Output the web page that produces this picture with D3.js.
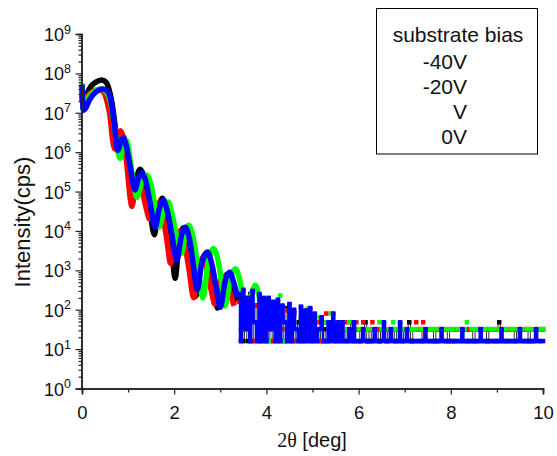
<!DOCTYPE html>
<html lang="en">
<head>
<meta charset="UTF-8">
<script src="https://cdn.jsdelivr.net/npm/d3@7"></script>
<style>
    * { margin: 0; padding: 0; }
    body { background: #fff; font-family: "Liberation Sans", Arial, sans-serif; }
    svg { display: block; }
</style>
<title>XRR substrate bias</title>
</head>
<body>
<div id="chart"></div>
<script>
// ---- data ----
var xTickValues = [0, 1, 2, 3, 4, 5, 6, 7, 8, 9, 10];
var xTickLabels = [0, 2, 4, 6, 8, 10];
var yExponents = [0, 1, 2, 3, 4, 5, 6, 7, 8, 9];
var legendTitle = "substrate bias";
var legendLabels = ["-40V", "-20V", "V", "0V"];

// main fringe part: [2theta, cps]
var blackMain = [[0.00,2.8e7],[0.03,1.4e7],[0.10,2.8e7],[0.20,4.8e7],[0.30,6.0e7],[0.42,6.8e7],[0.50,6.3e7],
    [0.58,4.2e7],[0.65,1.8e7],[0.70,7.0e6],[0.76,2.0e6],[0.80,1.4e6],[0.87,2.6e6],[0.94,1.9e6],[1.02,5.6e5],
    [1.12,1.3e5],[1.18,2.2e5],[1.26,3.7e5],[1.34,2.5e5],[1.45,5.6e4],[1.57,8.0e3],[1.65,3.5e4],[1.74,6.8e4],
    [1.83,3.5e4],[1.93,6.3e3],[2.02,630],[2.11,6.3e3],[2.20,1.2e4],[2.30,5.0e3],[2.40,800],[2.47,220],
    [2.57,1.4e3],[2.68,2.5e3],[2.78,1.1e3],[2.88,250],[2.94,110],[3.05,450],[3.15,800],[3.25,400],[3.35,160]];
var redMain = [[0.00,3.5e7],[0.03,1.3e7],[0.10,2.4e7],[0.20,3.3e7],[0.30,3.8e7],[0.40,3.8e7],[0.48,3.2e7],
    [0.55,1.8e7],[0.61,8.0e6],[0.66,2.2e6],[0.72,1.2e6],[0.78,2.5e6],[0.83,3.5e6],[0.90,2.2e6],[0.98,4.0e5],
    [1.05,6.3e4],[1.08,4.2e4],[1.14,9.0e4],[1.22,1.6e5],[1.30,1.1e5],[1.40,3.5e4],[1.47,2.0e4],[1.56,3.5e4],
    [1.66,5.2e4],[1.76,2.2e4],[1.85,5.0e3],[1.92,1.5e3],[2.03,5.6e3],[2.13,1.0e4],[2.23,4.5e3],[2.33,900],
    [2.42,200],[2.52,1.0e3],[2.62,2.0e3],[2.72,1.0e3],[2.82,250],[2.88,140],[2.98,450],[3.08,700],[3.18,350],[3.30,125]];
var greenMain = [[0.00,5.6e7],[0.03,1.2e7],[0.10,2.1e7],[0.20,3.0e7],[0.30,3.7e7],[0.40,4.0e7],[0.50,3.6e7],
    [0.58,2.6e7],[0.65,1.25e7],[0.70,5.0e6],[0.76,1.4e6],[0.83,7.0e5],[0.90,1.6e6],[0.96,2.0e6],[1.04,7.0e5],
    [1.12,1.6e5],[1.19,7.2e4],[1.30,1.8e5],[1.41,2.6e5],[1.51,1.25e5],[1.60,3.2e4],[1.67,1.25e4],[1.77,3.2e4],
    [1.87,5.4e4],[1.97,2.2e4],[2.08,5.0e3],[2.16,2.7e3],[2.23,7.0e3],[2.31,1.4e4],[2.41,7.0e3],[2.52,1.1e3],
    [2.62,200],[2.73,1.4e3],[2.85,3.6e3],[2.96,1.6e3],[3.05,320],[3.10,125],[3.22,630],[3.33,1.1e3],[3.45,400],
    [3.55,100],[3.66,220],[3.76,420],[3.86,180],[3.95,80]];
var blueMain = [[0.00,5.2e7],[0.03,1.15e7],[0.08,1.3e7],[0.15,2.0e7],[0.25,2.95e7],[0.35,3.7e7],[0.45,4.0e7],
    [0.55,3.55e7],[0.62,2.25e7],[0.67,1.0e7],[0.72,3.2e6],[0.78,1.1e6],[0.83,1.65e6],[0.89,2.3e6],[0.95,1.6e6],
    [1.05,4.0e5],[1.15,1.1e5],[1.22,2.1e5],[1.30,3.0e5],[1.38,1.9e5],[1.48,5.0e4],[1.59,1.25e4],[1.67,3.5e4],
    [1.76,6.0e4],[1.85,3.2e4],[1.95,8.0e3],[2.06,1.8e3],[2.15,7.0e3],[2.24,1.25e4],[2.33,6.3e3],[2.42,1.25e3],
    [2.50,320],[2.60,1.6e3],[2.72,2.9e3],[2.82,1.4e3],[2.92,320],[3.00,115],[3.10,500],[3.20,900],[3.30,450],[3.38,200]];

// noisy tail, cps sampled every 0.05 deg from 3.40 deg
var tailStart = 3.40, tailStep = 0.05;
var blackTail = [200,32,16,160,16,250,16,128,32,16,160,16,
    100,16,128,16,32,96,16,64,16,110,32,16,80,16,48,16,64,16,32,80,
    16,48,32,16,64,16,32,16,48,32,16,32,48,16,32,16,32,48,16,32,
    32,16,32,48,16,32,16,32,32,16, 32,32,16,32,32,32,16,32,32,16, 32,32,48,16,32,32,32,32,16,32,
    32,32,32,16,32,32,32,32,32,16, 32,32,32,32,32,16,32,32,32,32, 16,32,32,32,32,32,16,32,32,32,
    32,48,16,32,32,32,32,32,16,32, 32,32,32,32,16,32,32,32,32,32, 32];
var redTail = [160,16,100,32,200,16,80,16,128,16,64,32,
    16,96,32,16,80,16,64,32,16,96,16,48,80,16,32,64,16,48,32,16,
    48,16,32,48,16,48,80,16,32,48,16,32,16,48,32,48,16,32,16,48,
    32,32,48,32,16,32,48,32,32,16, 32,32,32,16,32,32,32,32,16,32, 32,32,32,16,32,48,32,32,48,32,
    16,32,32,32,32,16,32,32,32,32, 32,16,32,32,32,32,32,16,32,32, 32,32,32,16,32,32,32,32,32,16,
    32,32,32,32,16,32,32,32,32,32, 16,32,32,32,32,32,16,32,32,32, 32];
var greenTail = [null,null,null,null,null,null,null,null,null,null,null,null,
    64,16,128,32,16,160,230,100,16,32,80,16,48,32,16,64,80,96,107,32,
    48,32,16,64,32,16,48,32,80,16,32,48,16,32,32,16,48,32,48,16,
    32,16,32,32,32,16,32,32,16,48, 32,32,16,32,32,48,32,16,32,32, 32,16,32,32,32,32,16,32,32,16,
    32,32,32,32,16,32,32,16,32,32, 32,32,16,32,32,32,32,48,16,32, 32,32,16,32,32,32,16,32,32,32,
    16,32,32,32,32,16,32,32,16,32, 32,32,16,32,32,32,32,16,32,32, 32];
var blueTail = [250,16,320,32,200,16,300,48,16,250,16,200,
    16,200,32,160,16,180,16,128,48,16,140,16,100,32,16,120,16,96,16,110,
    16,80,16,32,64,16,16,48,16,80,16,48,16,48,16,16,32,16,48,16,
    16,16,32,16,16,16,16,32,16,16, 16,48,16,16,32,16,16,16,48,16, 16,32,16,16,16,16,16,16,16,32,
    16,16,16,16,16,16,32,16,16,16, 16,16,16,16,16,32,16,16,16,16, 16,16,16,32,16,16,16,16,16,16,
    16,16,32,16,16,16,16,16,16,16, 32,16,16,16,16,16,16,32,16,16, 16];

// ---- drawing ----
var w = 557, h = 456;
var svg = d3.select("#chart").append("svg").attr("width", w).attr("height", h);

var xScale = d3.scaleLinear().domain([0, 10]).range([82, 543]);
var yScale = d3.scaleLog().domain([1, 1e9]).range([388.5, 34]);

// tailWidth 0 = symbols only
var series = [
    {main: blackMain, tail: blackTail, color: "#000000", tailColor: "#333", tailWidth: 1},
    {main: redMain, tail: redTail, color: "#ff0000", tailColor: "#ff0000", tailWidth: 0},
    {main: greenMain, tail: greenTail, color: "#00ff00", tailColor: "#00ff00", tailWidth: 0},
    {main: blueMain, tail: blueTail, color: "#0000ff", tailColor: "#0000ff", tailWidth: 2.3}
];

var mainLine = d3.line()
    .x(function(d) { return xScale(d[0]); })
    .y(function(d) { return yScale(d[1]); })
    .curve(d3.curveMonotoneX);
var tailLine = d3.line()
    .x(function(d) { return xScale(d[0]); })
    .y(function(d) { return yScale(d[1]); })
    .curve(d3.curveStep);

var plot = svg.append("g");
series.forEach(function(s) {
    var pts = s.tail.map(function(v, i) { return [tailStart + i * tailStep, v]; })
        .filter(function(d) { return d[1] != null; });

    plot.append("path")
        .attr("d", mainLine(s.main))
        .attr("fill", "none")
        .attr("stroke", s.color)
        .attr("stroke-width", 5.5)
        .attr("stroke-linejoin", "round");

    if (s.tailWidth > 0) {
        plot.append("path")
            .attr("d", tailLine(pts))
            .attr("fill", "none")
            .attr("stroke", s.tailColor)
            .attr("stroke-width", s.tailWidth);
    }

    plot.selectAll(null)
        .data(pts)
        .enter()
        .append("rect")
        .attr("x", function(d) { return xScale(d[0]) - 2.25; })
        .attr("y", function(d) { return yScale(d[1]) - 2.25; })
        .attr("width", 4.5)
        .attr("height", 4.5)
        .attr("fill", s.color);
});

// y axis, log
var yMajor = yExponents.map(function(e) { return Math.pow(10, e); });
var yMinor = [];
yExponents.slice(0, -1).forEach(function(e) {
    for (var m = 2; m < 10; m++) yMinor.push(m * Math.pow(10, e));
});

var yAxisG = svg.append("g").attr("transform", "translate(81.5,0)");
yAxisG.call(d3.axisLeft(yScale).tickValues(yMajor).tickSize(6).tickFormat(""));
yAxisG.append("g").call(d3.axisLeft(yScale).tickValues(yMinor).tickSize(3).tickFormat(""));
yAxisG.selectAll(".domain").attr("stroke", "#222").attr("stroke-width", 1.5);
yAxisG.selectAll(".tick line").attr("stroke", "#222").attr("stroke-width", 1.2);

yExponents.forEach(function(e) {
    var t = svg.append("text")
        .attr("x", 71)
        .attr("y", yScale(Math.pow(10, e)) + 7)
        .attr("text-anchor", "end")
        .attr("font-size", "18px")
        .attr("fill", "#111")
        .text("10");
    t.append("tspan").attr("dy", -7.5).attr("font-size", "12.5px").text(e);
});

// x axis
var xAxisG = svg.append("g").attr("transform", "translate(0,388.5)");
xAxisG.call(d3.axisBottom(xScale).tickValues(xTickLabels).tickSize(6).tickPadding(11).tickFormat(d3.format("d")));
xAxisG.append("g").call(d3.axisBottom(xScale).tickValues(xTickValues.filter(function(v) { return v % 2; })).tickSize(4).tickFormat(""));
xAxisG.selectAll(".domain").attr("stroke", "#222").attr("stroke-width", 1.5);
xAxisG.selectAll(".tick line").attr("stroke", "#222").attr("stroke-width", 1.2);
xAxisG.selectAll("text")
    .attr("font-size", "18.5px")
    .attr("font-family", "Liberation Sans, Arial, sans-serif")
    .attr("fill", "#111");

// titles
var xt = svg.append("text")
    .attr("x", 312)
    .attr("y", 447)
    .attr("text-anchor", "middle")
    .attr("font-size", "20px")
    .attr("fill", "#111");
xt.append("tspan").attr("font-family", "Liberation Serif, Times New Roman, serif").text("2θ");
xt.append("tspan").text(" [deg]");

svg.append("text")
    .attr("transform", "translate(30,222) rotate(-90)")
    .attr("text-anchor", "middle")
    .attr("font-size", "22px")
    .attr("fill", "#111")
    .text("Intensity(cps)");

// legend box
svg.append("rect")
    .attr("x", 376.5).attr("y", 8.5)
    .attr("width", 161).attr("height", 145.5)
    .attr("fill", "#fff")
    .attr("stroke", "#000")
    .attr("stroke-width", 1);
svg.append("text")
    .attr("x", 458).attr("y", 42)
    .attr("text-anchor", "middle")
    .attr("font-size", "21px")
    .attr("fill", "#111")
    .text(legendTitle);
svg.selectAll(".leg")
    .data(legendLabels)
    .enter()
    .append("text")
    .attr("class", "leg")
    .attr("x", 467)
    .attr("y", function(d, i) { return 69 + i * 25; })
    .attr("text-anchor", "end")
    .attr("font-size", "21px")
    .attr("fill", "#111")
    .text(function(d) { return d; });
</script>
</body>
</html>
